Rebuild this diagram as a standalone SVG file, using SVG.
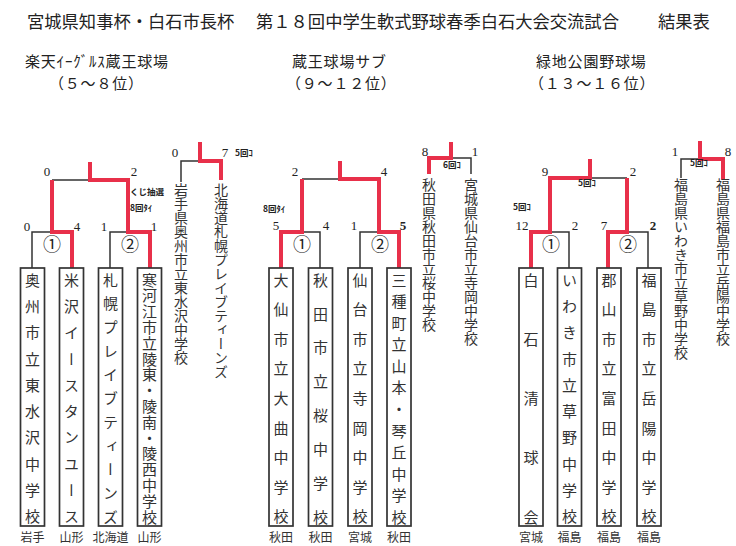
<svg xmlns="http://www.w3.org/2000/svg" width="736" height="546" viewBox="0 0 736 546">
<style>
.t{font-family:"Noto Sans CJK JP",sans-serif;fill:#222}
.ti{font-size:17.3px}
.st{font-size:15px;letter-spacing:0.8px}
.v{writing-mode:vertical-rl;font-family:"Noto Sans CJK JP",sans-serif;font-size:15px;fill:#333}
.vs{writing-mode:vertical-rl;font-family:"Noto Sans CJK JP",sans-serif;font-size:14px;fill:#333}
.box{fill:#fff;stroke:#333;stroke-width:1.7}
.bk{fill:none;stroke:#333;stroke-width:1.5}
.rd{fill:none;stroke:#e8304a;stroke-width:4;stroke-linejoin:miter}
.sc{font-family:"Liberation Serif",serif;font-size:13px;text-anchor:middle;fill:#222}
.b{font-weight:bold}
.nt{font-family:"Noto Sans CJK JP",sans-serif;font-size:8.5px;font-weight:bold;fill:#222}
.pf{font-family:"Noto Sans CJK JP",sans-serif;font-size:12px;text-anchor:middle;fill:#333}
.cn{font-family:"Noto Sans CJK JP",sans-serif;font-size:18px;text-anchor:middle;dominant-baseline:central;fill:#222}
</style>
<rect width="736" height="546" fill="#fff"/>
<g id="title">
<text class="t ti" x="27" y="28">宮城県知事杯・白石市長杯</text>
<text class="t ti" x="256" y="28">第１８回中学生軟式野球春季白石大会交流試合</text>
<text class="t ti" x="658" y="28">結果表</text>
</g>
<g id="venue1">
<text class="t st" x="25" y="67">楽天ｲｰｸﾞﾙｽ蔵王球場</text>
<text class="t st" x="49" y="89">（５～８位）</text>
</g>
<g id="venue2">
<text class="t st" x="292" y="67">蔵王球場サブ</text>
<text class="t st" x="286" y="89">（９～１２位）</text>
</g>
<g id="venue3">
<text class="t st" x="536" y="67">緑地公園野球場</text>
<text class="t st" x="529" y="89">（１３～１６位）</text>
</g>
<g id="connectors">
<path class="bk" d="M52,180 H90 M32,268 V232 H52 M110,268 V232 H128 M181,182 V161 H200"/>
<path class="bk" d="M302,179 H340 M302,232 H320 V268 M360,268 V232 H379 M451,158 H471 V174"/>
<path class="bk" d="M590,178 H627 M550,232 H569 V268 M627,232 H648 V268 M700,159 H681 V178"/>
<path class="rd" d="M90,162 V180 H128 V232 H150 V268 M52,180 V232 H72 V268 M200,142 V161 H221 V180"/>
<path class="rd" d="M340,161 V179 H379 V232 H399 V268 M302,179 V232 H281 V268 M451,142 V158 H429 V174"/>
<path class="rd" d="M590,159 V178 H550 V232 H531 V268 M627,178 V232 H608 V268 M700,141 V159 H723 V180"/>
</g>
<g id="scores">
<text class="sc" x="47" y="176">0</text><text class="sc" x="134" y="176">2</text>
<text class="sc" x="27" y="231">0</text><text class="sc" x="77" y="231">4</text>
<text class="sc" x="104" y="231">1</text><text class="sc" x="154" y="231">1</text>
<text class="sc" x="175" y="157">0</text><text class="sc" x="225" y="157">7</text>
<text class="sc" x="295" y="176">2</text><text class="sc" x="384" y="176">4</text>
<text class="sc" x="276" y="230">5</text><text class="sc" x="326" y="230">4</text>
<text class="sc" x="354" y="230">1</text><text class="sc b" x="403" y="230">5</text>
<text class="sc" x="425" y="156">8</text><text class="sc" x="475" y="156">1</text>
<text class="sc" x="545" y="176">9</text><text class="sc" x="633" y="176">2</text>
<text class="sc" x="522" y="230">12</text><text class="sc" x="575" y="230">2</text>
<text class="sc" x="604" y="230">7</text><text class="sc b" x="653" y="230">2</text>
<text class="sc" x="675" y="156">1</text><text class="sc" x="728" y="156">8</text>
</g>
<g id="notes">
<text class="nt" x="130" y="195">くじ抽選</text>
<text class="nt" x="130" y="211">8回ﾀｲ</text>
<text class="nt" x="235" y="156">5回ｺ</text>
<text class="nt" x="263" y="212">8回ﾀｲ</text>
<text class="nt" x="443" y="168">6回ｺ</text>
<text class="nt" x="578" y="186">5回ｺ</text>
<text class="nt" x="513" y="210">5回ｺ</text>
<text class="nt" x="690" y="166">5回ｺ</text>
</g>
<g id="games">
<text class="cn" x="52" y="243">①</text><text class="cn" x="130" y="243">②</text>
<text class="cn" x="302" y="243">①</text><text class="cn" x="380" y="243">②</text>
<text class="cn" x="551" y="243">①</text><text class="cn" x="628" y="243">②</text>
</g>
<g id="team-okushu"><rect class="box" x="20.5" y="268" width="24" height="258"/><text class="v" x="32.5" y="272.5" style="letter-spacing:11.3px">奥州市立東水沢中学校</text><text class="pf" x="32.5" y="542">岩手</text></g>
<g id="team-yonezawa"><rect class="box" x="59.5" y="268" width="24" height="258"/><text class="v" x="71.5" y="272.5" style="letter-spacing:11.3px">米沢イースタンユース</text><text class="pf" x="71.5" y="542">山形</text></g>
<g id="team-sapporo"><rect class="box" x="98.5" y="268" width="24" height="258"/><text class="v" x="110.5" y="272.5" style="letter-spacing:8.7px">札幌プレイブティーンズ</text><text class="pf" x="110.5" y="542">北海道</text></g>
<g id="team-sagae"><rect class="box" x="137.5" y="268" width="24" height="258"/><text class="v" x="149.5" y="272.5" style="letter-spacing:0.8px">寒河江市立陵東・陵南・陵西中学校</text><text class="pf" x="149.5" y="542">山形</text></g>
<g id="team-daisen"><rect class="box" x="269" y="268" width="24" height="258"/><text class="v" x="281" y="272.5" style="letter-spacing:14.6px">大仙市立大曲中学校</text><text class="pf" x="281" y="542">秋田</text></g>
<g id="team-akitasakura"><rect class="box" x="308.5" y="268" width="24" height="258"/><text class="v" x="320.5" y="272.5" style="letter-spacing:18.9px">秋田市立桜中学校</text><text class="pf" x="320.5" y="542">秋田</text></g>
<g id="team-teraoka"><rect class="box" x="348" y="268" width="24" height="258"/><text class="v" x="360" y="272.5" style="letter-spacing:14.6px">仙台市立寺岡中学校</text><text class="pf" x="360" y="542">宮城</text></g>
<g id="team-mitane"><rect class="box" x="387" y="268" width="24" height="258"/><text class="v" x="399" y="272.5" style="letter-spacing:6.55px">三種町立山本・琴丘中学校</text><text class="pf" x="399" y="542">秋田</text></g>
<g id="team-shiroishi"><rect class="box" x="519" y="268" width="24" height="258"/><text class="v" x="531" y="272.5 331.75 391 450.25 509.5">白石清球会</text><text class="pf" x="531" y="542">宮城</text></g>
<g id="team-kusano"><rect class="box" x="557.5" y="268" width="24" height="258"/><text class="v" x="569.5" y="272.5" style="letter-spacing:11.3px">いわき市立草野中学校</text><text class="pf" x="569.5" y="542">福島</text></g>
<g id="team-tomita"><rect class="box" x="597" y="268" width="24" height="258"/><text class="v" x="609" y="272.5" style="letter-spacing:14.6px">郡山市立富田中学校</text><text class="pf" x="609" y="542">福島</text></g>
<g id="team-gakuyo"><rect class="box" x="637" y="268" width="24" height="258"/><text class="v" x="649" y="272.5" style="letter-spacing:14.6px">福島市立岳陽中学校</text><text class="pf" x="649" y="542">福島</text></g>
<g id="team-higashimizusawa"><text class="vs" x="181" y="183">岩手県奥州市立東水沢中学校</text></g>
<g id="team-hokkaido-sapporo"><text class="vs" x="221" y="183">北海道札幌プレイブティーンズ</text></g>
<g id="team-akita-sakura"><text class="vs" x="429" y="178">秋田県秋田市立桜中学校</text></g>
<g id="team-miyagi-teraoka"><text class="vs" x="471" y="178">宮城県仙台市立寺岡中学校</text></g>
<g id="team-iwaki-kusano"><text class="vs" x="681" y="178">福島県いわき市立草野中学校</text></g>
<g id="team-fukushima-gakuyo"><text class="vs" x="723" y="178">福島県福島市立岳陽中学校</text></g>
</svg>
